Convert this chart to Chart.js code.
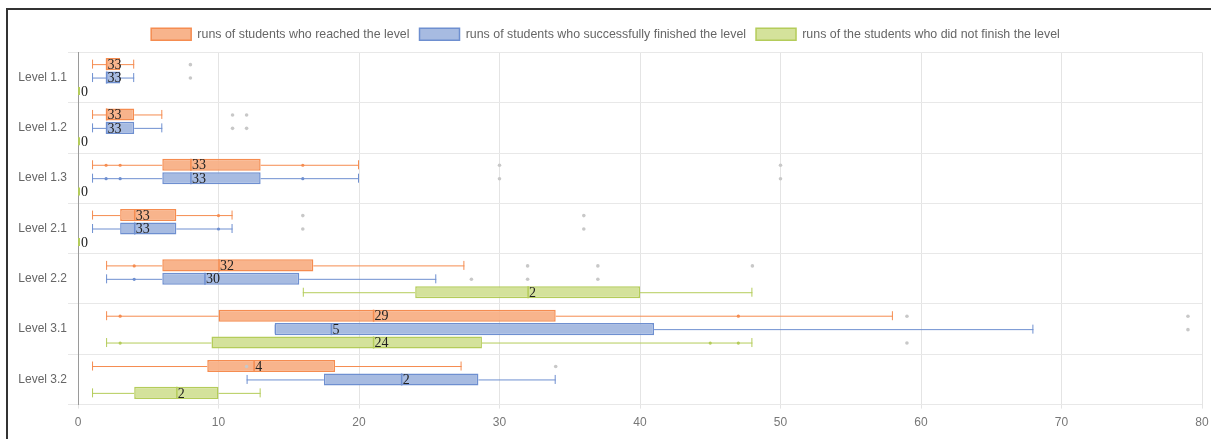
<!DOCTYPE html>
<html>
<head>
<meta charset="utf-8">
<script src="https://cdn.jsdelivr.net/npm/chart.js@4/dist/chart.umd.min.js"></script>
<style>
  html, body { margin: 0; padding: 0; background: #fff; }
  .wrap { position: relative; width: 1211px; height: 439px; overflow: hidden; }
  .frame { position: absolute; left: 6px; top: 8px; right: -4px; bottom: -4px; border-top: 2px solid #333; border-left: 2px solid #333; pointer-events: none; }
</style>
</head>
<body>
<div class="wrap">
  <canvas id="chart"></canvas>
  <div class="frame"></div>
</div>
<script>
const levels = ['Level 1.1', 'Level 1.2', 'Level 1.3', 'Level 2.1', 'Level 2.2', 'Level 3.1', 'Level 3.2'];
const xTicks = [0, 10, 20, 30, 40, 50, 60, 70, 80];

// [min, q1, median, q3, max]
const reachedStats = [
  [1, 2, 2, 3, 4],
  [1, 2, 2, 4, 6],
  [1, 6, 8, 13, 20],
  [1, 3, 4, 7, 11],
  [2, 6, 10, 16.75, 27.5],
  [2, 10, 21, 34, 58],
  [1, 9.2, 12.5, 18.3, 27.3],
];
const reachedCounts = [33, 33, 33, 33, 32, 29, 4];
const reachedOutliers = [[8], [11, 12], [30, 50], [16, 36], [32, 37, 48], [59, 79], [12, 34]];
const reachedPoints = [[], [], [2, 3, 16], [10], [4], [3, 47], []];

const finishedStats = [
  [1, 2, 2, 3, 4],
  [1, 2, 2, 4, 6],
  [1, 6, 8, 13, 20],
  [1, 3, 4, 7, 11],
  [2, 6, 9, 15.75, 25.5],
  [14, 14, 18, 41, 68],
  [12, 17.5, 23, 28.5, 34],
];
const finishedCounts = [33, 33, 33, 33, 30, 5, 2];
const finishedOutliers = [[8], [11, 12], [30, 50], [16, 36], [28, 32, 37], [79], []];
const finishedPoints = [[], [], [2, 3, 16], [10], [4], [], []];

const notFinishedStats = [
  null,
  null,
  null,
  null,
  [16, 24, 32, 40, 48],
  [2, 9.5, 21, 28.75, 48],
  [1, 4, 7, 10, 13],
];
const notFinishedCounts = [0, 0, 0, 0, 2, 24, 2];
const notFinishedOutliers = [[], [], [], [], [], [59], []];
const notFinishedPoints = [[], [], [], [], [], [3, 45, 47], []];

const boxSets = [
  { stats: reachedStats, counts: reachedCounts, outliers: reachedOutliers, points: reachedPoints },
  { stats: finishedStats, counts: finishedCounts, outliers: finishedOutliers, points: finishedPoints },
  { stats: notFinishedStats, counts: notFinishedCounts, outliers: notFinishedOutliers, points: notFinishedPoints },
];

Chart.defaults.font.family = 'Arial, "Liberation Sans", sans-serif';
Chart.defaults.font.size = 12;
Chart.defaults.color = '#666';

const boxPlot = {
  id: 'boxPlot',
  afterDatasetsDraw(chart) {
    const ctx = chart.ctx;
    const xs = chart.scales.x;
    const ys = chart.scales.y;
    chart.data.datasets.forEach((ds, d) => {
      const set = boxSets[d];
      const meta = chart.getDatasetMeta(d);
      levels.forEach((lvl, i) => {
        const el = meta.data[i];
        const s = set.stats[i];
        const slot = ys.getPixelForValue(i) + (d - 1) * (ys.height / levels.length * 0.8 / 3);
        const y = s && el && !isNaN(el.y) ? el.y : slot;
        ctx.save();
        ctx.strokeStyle = ds.borderColor;
        ctx.lineWidth = 1;
        if (!s) {
          const x0 = xs.getPixelForValue(0);
          ctx.lineWidth = 2;
          ctx.beginPath();
          ctx.moveTo(x0 + 1, y - 4);
          ctx.lineTo(x0 + 1, y + 4);
          ctx.stroke();
          drawCount(ctx, x0 + 3, y, set.counts[i]);
          ctx.restore();
          return;
        }
        const [mn, q1, md, q3, mx] = s.map(v => xs.getPixelForValue(v));
        const cap = 4.5;
        ctx.beginPath();
        ctx.moveTo(mn, y + 0.5); ctx.lineTo(q1, y + 0.5);
        ctx.moveTo(q3, y + 0.5); ctx.lineTo(mx, y + 0.5);
        ctx.moveTo(mn + 0.5, y - cap); ctx.lineTo(mn + 0.5, y + cap);
        ctx.moveTo(mx - 0.5, y - cap); ctx.lineTo(mx - 0.5, y + cap);
        ctx.stroke();
        // median
        const h = el.height || 12;
        ctx.lineWidth = 1.5;
        ctx.beginPath();
        ctx.moveTo(md + 0.5, y - h / 2);
        ctx.lineTo(md + 0.5, y + h / 2);
        ctx.stroke();
        // points along whiskers
        ctx.fillStyle = ds.borderColor;
        set.points[i].forEach(v => {
          ctx.beginPath();
          ctx.arc(xs.getPixelForValue(v), y + 0.5, 1.6, 0, Math.PI * 2);
          ctx.fill();
        });
        // outliers
        ctx.fillStyle = '#c8c8c8';
        set.outliers[i].forEach(v => {
          ctx.beginPath();
          ctx.arc(xs.getPixelForValue(v), y + 0.5, 1.8, 0, Math.PI * 2);
          ctx.fill();
        });
        drawCount(ctx, md + 1.5, y, set.counts[i]);
        ctx.restore();
      });
    });
  },
};

// a bit more room under the legend
const legendGap = {
  id: 'legendGap',
  beforeInit(chart) {
    const fit = chart.legend.fit;
    chart.legend.fit = function () {
      fit.call(this);
      this.height += 2;
    };
  },
};

function drawCount(ctx, x, y, n) {
  ctx.save();
  ctx.font = '14px "Liberation Serif", "Times New Roman", serif';
  ctx.fillStyle = '#222';
  ctx.textAlign = 'left';
  ctx.textBaseline = 'middle';
  ctx.fillText(String(n), x, y + 1);
  ctx.restore();
}

new Chart(document.getElementById('chart'), {
  type: 'bar',
  data: {
    labels: levels,
    datasets: [
      {
        label: 'runs of students who reached the level',
        data: reachedStats.map(s => (s ? [s[1], s[3]] : null)),
        backgroundColor: 'rgba(247, 172, 128, 0.9)',
        borderColor: 'rgb(245, 140, 80)',
      },
      {
        label: 'runs of students who successfully finished the level',
        data: finishedStats.map(s => (s ? [s[1], s[3]] : null)),
        backgroundColor: 'rgba(162, 183, 223, 0.95)',
        borderColor: 'rgb(110, 143, 208)',
      },
      {
        label: 'runs of the students who did not finish the level',
        data: notFinishedStats.map(s => (s ? [s[1], s[3]] : null)),
        backgroundColor: 'rgba(210, 224, 150, 0.95)',
        borderColor: 'rgb(180, 204, 90)',
      },
    ].map(ds => ({ ...ds, borderWidth: 1.5, borderSkipped: false, categoryPercentage: 0.8, barPercentage: 0.9 })),
  },
  options: {
    indexAxis: 'y',
    responsive: true,
    maintainAspectRatio: false,
    animation: false,
    layout: { padding: { left: 9, right: 9, top: 18, bottom: 2 } },
    scales: {
      x: {
        min: 0,
        max: 80,
        afterBuildTicks: (scale) => {
          scale.ticks = xTicks.map(v => ({ value: v }));
        },
        afterFit: (scale) => {
          scale.paddingRight = 0;
        },
        grid: {
          color: '#e4e4e4',
          tickLength: 4,
        },
        border: { display: false },
        ticks: { padding: 7, color: '#777' },
      },
      y: {
        grid: {
          offset: true,
          color: '#e8e8e8',
          tickLength: 10,
        },
        border: { color: '#9a9a9a' },
        ticks: { padding: 1, color: '#666' },
        afterFit: (scale) => {
          scale.width = 69;
        },
      },
    },
    plugins: {
      legend: {
        position: 'top',
        labels: { boxWidth: 40, boxHeight: 12, padding: 10, color: '#666', font: { size: 12.4 } },
      },
      tooltip: { enabled: false },
    },
  },
  plugins: [legendGap, boxPlot],
});
</script>
</body>
</html>
